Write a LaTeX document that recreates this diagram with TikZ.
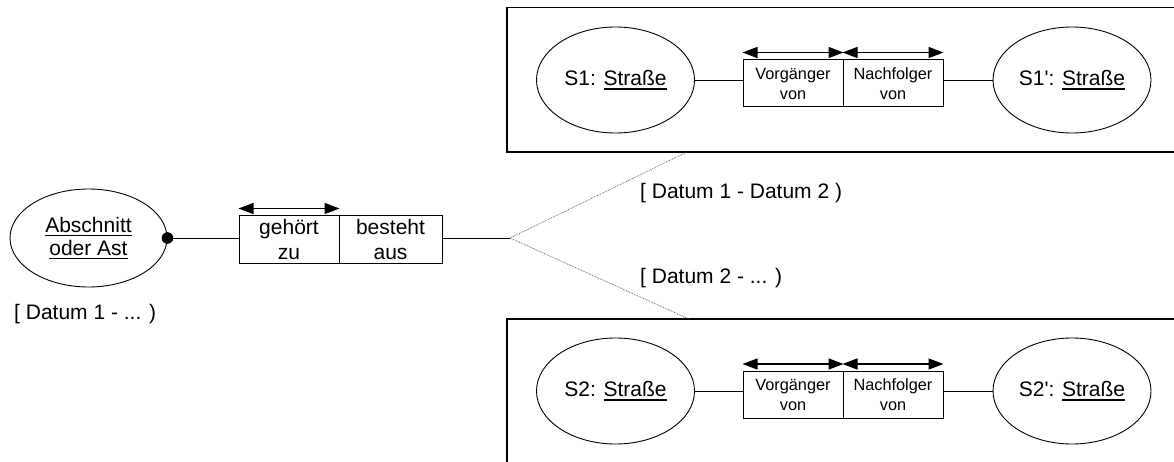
\documentclass[tikz,border=0pt]{standalone}
\usepackage{fontspec}
\setmainfont{Liberation Sans}
\usetikzlibrary{shapes.geometric,arrows.meta}
\newcommand\ulx[1]{\leavevmode\vtop{\hbox{#1}\kern 2.2pt\hrule height 1.5pt}}
\tikzset{
  ell/.style={draw, ellipse, line width=0.9pt, inner sep=0pt, minimum width=158pt, minimum height=106pt, font=\fontsize{21}{23}\selectfont, align=center},
  relbox/.style={draw, rectangle, line width=1pt, inner sep=0pt, minimum width=100pt, minimum height=47pt, align=center},
  bigrel/.style={relbox, font=\fontsize{21}{24.5}\selectfont},
  smallrel/.style={relbox, font=\fontsize{16.3}{20}\selectfont},
  conn/.style={line width=0.9pt},
  frame/.style={line width=1.3pt},
  biarrow/.style={line width=1.3pt, {Triangle[length=15pt,width=11pt]}-{Triangle[length=15pt,width=11pt]}},
  dotline/.style={densely dotted, line width=0.7pt, black!70},
  lbl/.style={anchor=base west, inner sep=0pt, font=\fontsize{21}{24}\selectfont},
}
\begin{document}
\begin{tikzpicture}[x=1pt,y=-1pt]
\useasboundingbox (0,0) rectangle (1174,462);
\clip (0,0) rectangle (1174,462);

% left part
\node[ell, minimum width=157pt, minimum height=98pt] (abs) at (88.5,238) {\ulx{Abschnitt}\\\ulx{oder Ast}};
\node[bigrel, minimum width=100pt] (g) at (289,239.5) {gehört\\zu};
\node[bigrel, minimum width=103pt] (b) at (390.5,239.5) {besteht\\aus};
\fill (abs.east) circle (5.8);
\draw[conn] (abs.east) -- (abs.east -| g.west);
\draw[biarrow] ([yshift=7pt]g.north west) -- ([yshift=7pt]g.north east);
\coordinate (fork) at (510,238);
\draw[conn] (b.east |- fork) -- (fork);
\node[lbl] (l0) at (14,319) {[ Datum 1 - ... )};

% top frame
\draw[frame] (507,7.5) rectangle (1190,152);
\node[ell] (s1) at (615.5,80) {S1: \ulx{Straße}};
\node[smallrel] (v1) at (793,83.5) {Vorgänger\\von};
\node[smallrel] (n1) at (893,83.5) {Nachfolger\\von};
\node[ell] (s1p) at (1072,80) {S1\textquotesingle: \ulx{Straße}};
\draw[conn] (s1.east) -- (s1.east -| v1.west);
\draw[conn] (s1p.west -| n1.east) -- (s1p.west);
\draw[biarrow] ([yshift=7pt]v1.north west) -- ([yshift=7pt]v1.north east);
\draw[biarrow] ([yshift=7pt]n1.north west) -- ([yshift=7pt]n1.north east);

% bottom frame
\draw[frame] (507,319) rectangle (1190,480);
\node[ell] (s2) at (615.5,391) {S2: \ulx{Straße}};
\node[smallrel] (v2) at (793,395) {Vorgänger\\von};
\node[smallrel] (n2) at (893,395) {Nachfolger\\von};
\node[ell] (s2p) at (1072,391) {S2\textquotesingle: \ulx{Straße}};
\draw[conn] (s2.east) -- (s2.east -| v2.west);
\draw[conn] (s2p.west -| n2.east) -- (s2p.west);
\draw[biarrow] ([yshift=7pt]v2.north west) -- ([yshift=7pt]v2.north east);
\draw[biarrow] ([yshift=7pt]n2.north west) -- ([yshift=7pt]n2.north east);

% branches
\coordinate (t1) at (687,152);
\coordinate (t2) at (689,319);
\draw[dotline] (fork) -- (t1);
\draw[dotline] (fork) -- (t2);
\node[lbl] (l1) at (640,199) {[ Datum 1 - Datum 2 )};
\node[lbl] (l2) at (640,283) {[ Datum 2 - ... )};
\end{tikzpicture}
\end{document}
